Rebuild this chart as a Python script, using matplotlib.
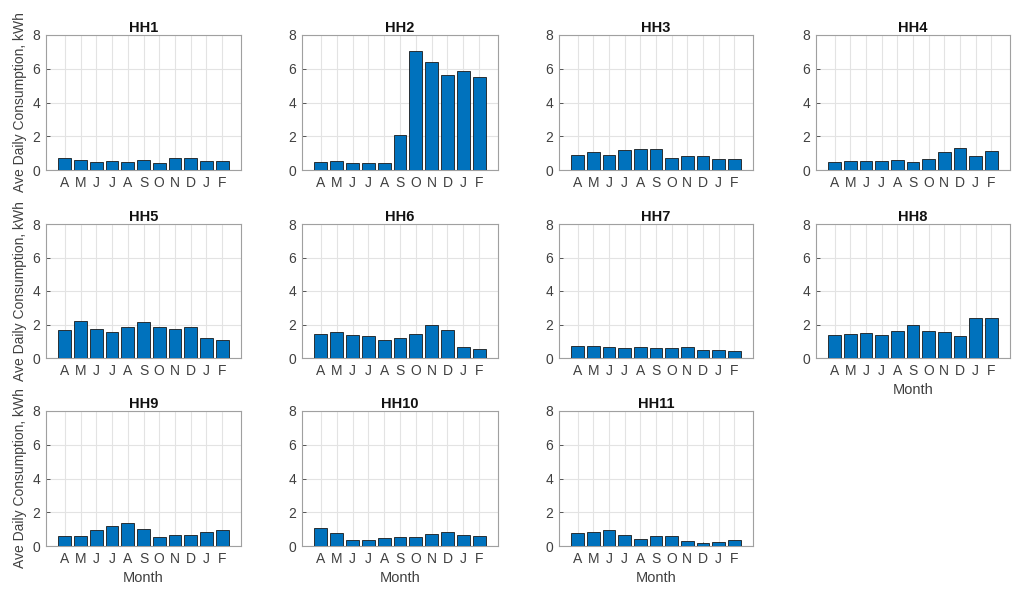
import numpy as np
import matplotlib
matplotlib.use('Agg')
import matplotlib.pyplot as plt

plt.rcParams['font.family'] = ['Liberation Sans', 'DejaVu Sans']

months = ['A', 'M', 'J', 'J', 'A', 'S', 'O', 'N', 'D', 'J', 'F']
titles = ['HH1', 'HH2', 'HH3', 'HH4', 'HH5', 'HH6', 'HH7', 'HH8', 'HH9', 'HH10', 'HH11']

hh1 = [0.73, 0.57, 0.45, 0.55, 0.47, 0.59, 0.41, 0.71, 0.69, 0.51, 0.53]
hh2 = [0.47, 0.51, 0.43, 0.41, 0.43, 2.09, 7.03, 6.40, 5.65, 5.85, 5.53]
hh3 = [0.91, 1.09, 0.91, 1.21, 1.26, 1.23, 0.73, 0.85, 0.83, 0.63, 0.63]
hh4 = [0.49, 0.53, 0.55, 0.55, 0.61, 0.49, 0.67, 1.09, 1.32, 0.83, 1.15]
hh5 = [1.69, 2.22, 1.75, 1.57, 1.85, 2.12, 1.83, 1.71, 1.83, 1.19, 1.09]
hh6 = [1.41, 1.55, 1.35, 1.29, 1.09, 1.21, 1.45, 1.96, 1.67, 0.65, 0.52]
hh7 = [0.69, 0.73, 0.63, 0.62, 0.63, 0.58, 0.58, 0.67, 0.50, 0.46, 0.44]
hh8 = [1.37, 1.41, 1.51, 1.35, 1.59, 2.00, 1.61, 1.53, 1.31, 2.38, 2.38]
hh9 = [0.57, 0.59, 0.92, 1.16, 1.34, 1.00, 0.51, 0.67, 0.65, 0.84, 0.92]
hh10 = [1.08, 0.75, 0.37, 0.33, 0.45, 0.51, 0.55, 0.71, 0.81, 0.67, 0.59]
hh11 = [0.77, 0.81, 0.96, 0.63, 0.39, 0.61, 0.57, 0.29, 0.20, 0.26, 0.35]

all_hh = [hh1, hh2, hh3, hh4, hh5, hh6, hh7, hh8, hh9, hh10, hh11]

W, H = 1028, 591
fig = plt.figure(figsize=(W / 100, H / 100), dpi=100)

# axes boxes in pixels (left, right) / (top, bottom)
col_px = [(46, 241), (302, 498), (559, 753), (816, 1010)]
row_px = [(35, 170), (224, 358), (411, 546)]

x = np.arange(len(months))
for i, vals in enumerate(all_hh):
    r, c = divmod(i, 4)
    l, rr = col_px[c]
    t, b = row_px[r]
    ax = fig.add_axes([l / W, 1 - b / H, (rr - l) / W, (b - t) / H])
    ax.bar(x, vals, width=0.82, color='#0072BD', edgecolor='#1a1a1a', linewidth=0.6, zorder=3)
    ax.set_xlim(-1.2, 11.2)
    ax.set_ylim(0, 8)
    ax.set_yticks([0, 2, 4, 6, 8])
    ax.set_xticks(x)
    ax.set_xticklabels(months)
    ax.grid(True, color='#e3e3e3', linewidth=0.8, zorder=0)
    ax.tick_params(direction='in', length=3, labelsize=10, colors='#404040', width=0.6, pad=4)
    for s in ax.spines.values():
        s.set_color('#a0a0a0')
        s.set_linewidth(0.8)
    ax.set_title(titles[i], fontsize=10.5, fontweight='bold', color='#111111', pad=1.5)
    if c == 0:
        ax.set_ylabel('Ave Daily Consumption, kWh', fontsize=10, color='#404040', labelpad=4)
    if i >= 7:
        ax.set_xlabel('Month', fontsize=10.5, color='#404040', labelpad=4)

fig.savefig('out.png', dpi=100)
